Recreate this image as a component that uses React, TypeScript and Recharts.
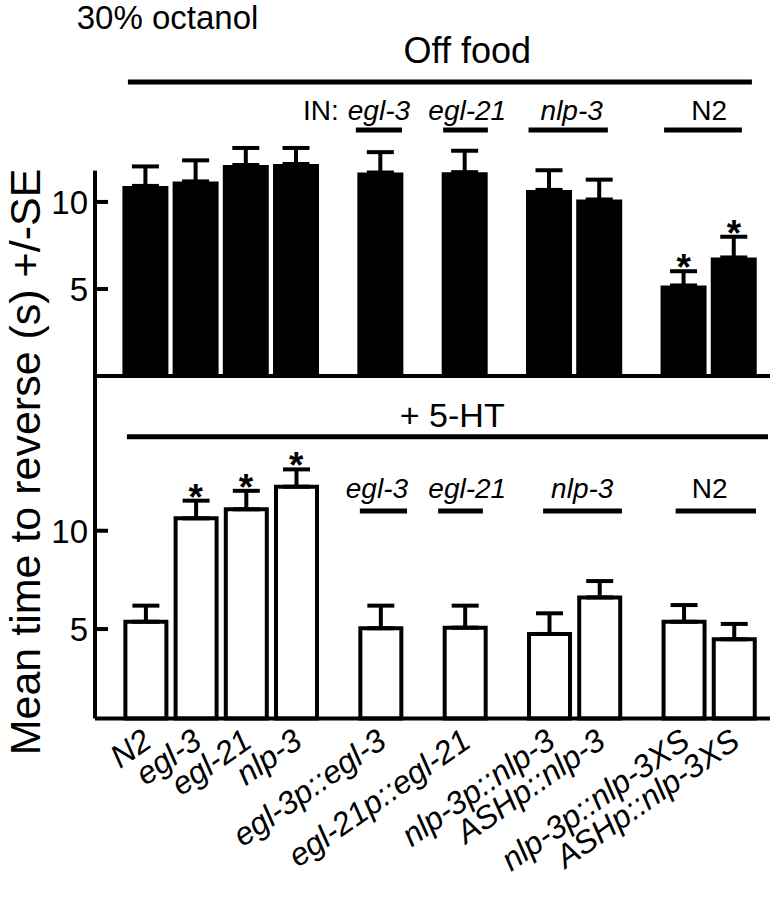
import React from 'react';
import { ComposedChart, Bar, XAxis, YAxis, ErrorBar, ReferenceLine, ReferenceDot } from 'recharts';

// ---------- data ----------
const categories = [
  'N2', 'egl-3', 'egl-21', 'nlp-3',
  'egl-3p::egl-3', 'egl-21p::egl-21',
  'nlp-3p::nlp-3', 'ASHp::nlp-3',
  'nlp-3p::nlp-3XS', 'ASHp::nlp-3XS',
];
const groupOf = [0, 0, 0, 0, 1, 2, 3, 3, 4, 4];

const offFoodMean = [10.92, 11.18, 12.12, 12.18, 11.69, 11.71, 10.69, 10.14, 5.2, 6.81];
const offFoodSE = [1.12, 1.21, 0.98, 0.92, 1.17, 1.23, 1.13, 1.14, 0.82, 1.19];
const offFoodSig = [false, false, false, false, false, false, false, false, true, true];

const serotoninMean = [5.37, 10.63, 11.09, 12.24, 5.04, 5.07, 4.75, 6.61, 5.37, 4.48];
const serotoninSE = [0.82, 0.9, 0.94, 0.88, 1.15, 1.12, 1.05, 0.83, 0.85, 0.78];
const serotoninSig = [false, true, true, true, false, false, false, false, false, false];

const yTicks = [5, 10];

// annotation text (data-unit placement)
const topGroups = [
  { text: 'egl-3', from: 4.19, to: 5.11, at: 4.65 },
  { text: 'egl-21', from: 5.93, to: 6.82, at: 6.41 },
  { text: 'nlp-3', from: 7.63, to: 9.21, at: 8.49 },
  { text: 'N2', from: 10.33, to: 11.88, at: 11.23, upright: true },
];
const bottomGroups = [
  { text: 'egl-3', from: 4.27, to: 5.21, at: 4.61 },
  { text: 'egl-21', from: 5.83, to: 6.72, at: 6.41 },
  { text: 'nlp-3', from: 7.92, to: 9.49, at: 8.7 },
  { text: 'N2', from: 10.56, to: 12.16, at: 11.24, upright: true },
];

// ---------- layout ----------
const W = 771;
const GROUP_GAP = 1.68;
const X_DOMAIN: [number, number] = [-1.006, 12.44];
const TOP_H = 380;
const TOP_DOMAIN: [number, number] = [0, 21.6];
const BOT_TOP = 376;
const BOT_H = 899 - BOT_TOP;
const BOT_DOMAIN: [number, number] = [0.45, 17.87];
const FONT = '"Liberation Sans", Arial, Helvetica, sans-serif';

const positions = categories.map((_, i) => i + groupOf[i] * (GROUP_GAP - 1));

const topRows = categories.map((c, i) => ({
  name: c,
  pos: positions[i],
  mean: offFoodMean[i],
  err: [0, offFoodSE[i]],
}));
const botRows = categories.map((c, i) => ({
  name: c,
  pos: positions[i],
  mean: serotoninMean[i],
  err: [0, serotoninSE[i]],
}));

const YTick = (props: any) => {
  const { x, y, payload } = props;
  return (
    <g>
      <line x1={x} x2={x + 13} y1={y} y2={y} stroke="#000" strokeWidth={4} />
      <text x={x - 7} y={y} dy="0.36em" textAnchor="end" fontSize={33} fill="#000" fontFamily={FONT}>
        {payload.value}
      </text>
    </g>
  );
};

const CatTick = (props: any) => {
  const { x, y, payload } = props;
  let idx = 0;
  let best = Infinity;
  positions.forEach((p, i) => {
    const d = Math.abs(p - payload.value);
    if (d < best) { best = d; idx = i; }
  });
  return (
    <text
      transform={`translate(${x + 8},${y + 27}) rotate(-35)`}
      textAnchor="end"
      fontSize={32}
      fontStyle="italic"
      fill="#000"
      fontFamily={FONT}
    >
      {categories[idx]}
    </text>
  );
};

const textShape = (txt: React.ReactNode, opts: any) => (p: any) => (
  <text
    x={p.cx + (opts.dx || 0)}
    y={p.cy}
    textAnchor={opts.anchor || 'middle'}
    fontSize={opts.size}
    fontStyle={opts.italic ? 'italic' : 'normal'}
    fontWeight={opts.bold ? 'bold' : 'normal'}
    fill="#000"
    fontFamily={FONT}
  >
    {txt}
  </text>
);

const star = (p: any) => (
  <text x={p.cx} y={p.cy + 9} textAnchor="middle" fontSize={37} fontWeight="bold" fill="#000" fontFamily={FONT}>
    *
  </text>
);

const lineSeg = (key: string, x1: number, x2: number, y: number, w = 5) => (
  <ReferenceLine
    key={key}
    segment={[{ x: x1, y }, { x: x2, y }]}
    stroke="#000"
    strokeWidth={w}
    ifOverflow="visible"
  />
);

export default function App() {
  return (
    <div style={{ position: 'absolute', left: 0, top: 0, width: W, height: 899, background: '#fff' }}>
      {/* Top panel: off food */}
      <div style={{ position: 'absolute', left: 0, top: 0 }}>
        <ComposedChart width={W} height={TOP_H} data={topRows} margin={{ top: 0, right: 1, bottom: 0, left: 0 }}>
          <XAxis
            type="number"
            dataKey="pos"
            domain={X_DOMAIN}
            ticks={positions}
            interval={0}
            tick={false}
            tickLine={false}
            height={4}
            axisLine={{ stroke: '#000', strokeWidth: 4 }}
          />
          <YAxis
            type="number"
            domain={TOP_DOMAIN}
            ticks={yTicks}
            interval={0}
            width={95}
            axisLine={false}
            tickLine={false}
            tickSize={0}
            tickMargin={0}
            tick={<YTick />}
          />
          <ReferenceLine
            segment={[{ x: X_DOMAIN[0], y: 0 }, { x: X_DOMAIN[0], y: 11.8 }]}
            stroke="#000"
            strokeWidth={4}
            ifOverflow="visible"
          />
          <Bar dataKey="mean" fill="#000" barSize={46} isAnimationActive={false}>
            <ErrorBar dataKey="err" width={13.5} strokeWidth={4} stroke="#000" />
          </Bar>
          {lineSeg('offfood', -0.35, 12.08, 16.89)}
          <ReferenceDot x={6.41} y={17.98} r={0} ifOverflow="visible" shape={textShape('Off food', { size: 36 })} />
          <ReferenceDot x={0.44} y={19.93} r={0} ifOverflow="visible" shape={textShape('30% octanol', { size: 33 })} />
          <ReferenceDot x={3.85} y={14.7} r={0} ifOverflow="visible" shape={textShape('IN:', { size: 28, anchor: 'end' })} />
          {topGroups.map((g) => lineSeg('tl' + g.text, g.from, g.to, 14.13))}
          {topGroups.map((g) => (
            <ReferenceDot
              key={'tt' + g.text}
              x={g.at}
              y={14.7}
              r={0}
              ifOverflow="visible"
              shape={textShape(g.text, { size: 28, italic: !g.upright })}
            />
          ))}
          {topRows.map((r, i) =>
            offFoodSig[i] ? (
              <ReferenceDot key={'ts' + i} x={r.pos} y={r.mean + offFoodSE[i]} r={0} ifOverflow="visible" shape={star} />
            ) : null
          )}
        </ComposedChart>
      </div>

      {/* Bottom panel: + 5-HT */}
      <div style={{ position: 'absolute', left: 0, top: BOT_TOP }}>
        <ComposedChart width={W} height={BOT_H} data={botRows} margin={{ top: 0, right: 1, bottom: 0, left: 0 }}>
          <XAxis
            type="number"
            dataKey="pos"
            domain={X_DOMAIN}
            ticks={positions}
            interval={0}
            tickLine={false}
            tickSize={0}
            tickMargin={0}
            height={180.5}
            axisLine={{ stroke: '#000', strokeWidth: 4 }}
            tick={<CatTick />}
          />
          <YAxis
            type="number"
            domain={BOT_DOMAIN}
            ticks={yTicks}
            interval={0}
            width={95}
            axisLine={{ stroke: '#000', strokeWidth: 4 }}
            tickLine={false}
            tickSize={0}
            tickMargin={0}
            tick={<YTick />}
          />
          <Bar dataKey="mean" fill="#fff" stroke="#000" strokeWidth={4} barSize={41} isAnimationActive={false}>
            <ErrorBar dataKey="err" width={13.5} strokeWidth={4} stroke="#000" />
          </Bar>
          {lineSeg('ht', -0.37, 12.4, 14.78)}
          <ReferenceDot x={6.11} y={15.28} r={0} ifOverflow="visible" shape={textShape('+ 5-HT', { size: 34 })} />
          {bottomGroups.map((g) => lineSeg('bl' + g.text, g.from, g.to, 11.0))}
          {bottomGroups.map((g) => (
            <ReferenceDot
              key={'bt' + g.text}
              x={g.at}
              y={11.67}
              r={0}
              ifOverflow="visible"
              shape={textShape(g.text, { size: 28, italic: !g.upright })}
            />
          ))}
          {botRows.map((r, i) =>
            serotoninSig[i] ? (
              <ReferenceDot key={'bs' + i} x={r.pos} y={r.mean + serotoninSE[i]} r={0} ifOverflow="visible" shape={star} />
            ) : null
          )}
        </ComposedChart>
      </div>

      {/* shared y-axis title */}
      <svg width={60} height={899} style={{ position: 'absolute', left: 0, top: 0, pointerEvents: 'none' }}>
        <text
          transform="translate(40,462) rotate(-90)"
          textAnchor="middle"
          fontSize={43}
          fill="#000"
          fontFamily={FONT}
        >
          Mean time to reverse (s) +/-SE
        </text>
      </svg>
    </div>
  );
}
